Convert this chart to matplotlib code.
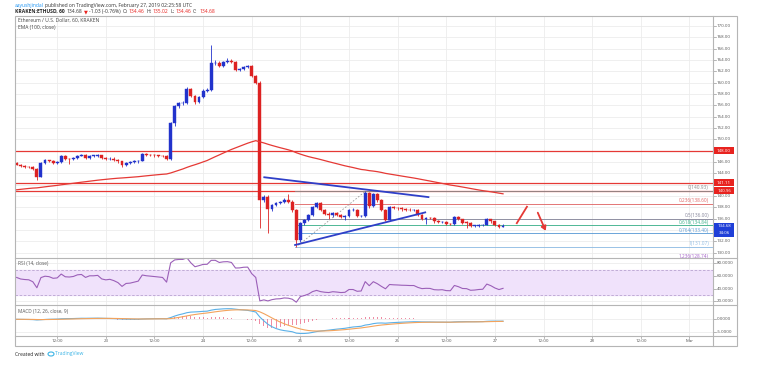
import matplotlib
matplotlib.use("Agg")
import matplotlib.pyplot as plt
import numpy as np
from matplotlib.patches import Rectangle, FancyArrowPatch, Ellipse
from matplotlib.lines import Line2D

W, H = 757, 380

# ---------------- data (hourly candles, hours since Feb 22 00:00) ----------------
hours = list(range(2, 123))
opens = [145.8, 145.5, 145.2, 145.1, 145.05, 144.7, 143.4, 145.85, 146.3, 146.2,
         145.85, 145.95, 147.1, 146.55, 146.5, 146.65, 147.1, 147.2, 146.7, 147.1,
         147.1, 147.2, 146.65, 146.5, 146.6, 146.4, 146.1, 145.45, 145.9, 145.95,
         146.1, 146.25, 147.35, 147.25, 147.2, 147.15, 147.1, 147.05, 146.5, 152.8,
         155.8, 156.35, 156.4, 158.8, 157.6, 156.6, 157.5, 158.6, 158.7, 163.4,
         163.5, 162.9, 163.7, 163.9, 163.7, 162.25, 162.35, 162.8, 162.9, 161.2,
         160.0, 139.3, 139.9, 137.65, 138.4, 138.8, 138.9, 139.3, 139.0, 137.5,
         132.2, 135.2, 135.8, 136.6, 138.0, 138.7, 137.5, 136.9, 136.6, 137.0,
         136.7, 136.3, 136.4, 137.5, 137.5, 136.4, 136.5, 140.5, 138.2, 140.4,
         139.2, 137.5, 135.8, 138.1, 137.9, 137.8, 137.65, 137.6, 137.5, 137.5,
         136.6, 136.0, 136.1, 136.05, 135.5, 135.4, 135.45, 135.1, 135.05, 136.3,
         135.9, 135.3, 135.25, 134.7, 134.75, 134.85, 134.9, 135.9, 135.5, 134.9,
         134.46]
closes = [145.5, 145.2, 145.1, 145.05, 144.7, 143.4, 145.85, 146.3, 146.2, 145.85,
          145.95, 147.1, 146.55, 146.5, 146.65, 147.1, 147.2, 146.7, 147.1, 147.1,
          147.2, 146.65, 146.5, 146.6, 146.4, 146.1, 145.45, 145.9, 145.95, 146.1,
          146.25, 147.35, 147.25, 147.2, 147.15, 147.1, 147.05, 146.5, 152.8, 155.8,
          156.35, 156.4, 158.8, 157.6, 156.6, 157.5, 158.6, 158.7, 163.4, 163.5,
          162.9, 163.7, 163.9, 163.7, 162.25, 162.35, 162.8, 162.9, 161.2, 160.0,
          139.3, 139.9, 137.65, 138.4, 138.8, 138.9, 139.3, 139.0, 137.5, 132.2,
          135.2, 135.8, 136.6, 138.0, 138.7, 137.5, 136.9, 136.6, 137.0, 136.7,
          136.3, 136.4, 137.5, 137.5, 136.4, 136.5, 140.5, 138.2, 140.4, 139.2,
          137.5, 135.8, 138.1, 137.9, 137.8, 137.65, 137.6, 137.5, 137.5, 136.6,
          136.0, 136.1, 136.05, 135.5, 135.4, 135.45, 135.1, 135.05, 136.3, 135.9,
          135.3, 135.25, 134.7, 134.75, 134.85, 134.9, 135.9, 135.5, 134.9, 134.46,
          134.68]
highs = [146.0, 145.7, 145.4, 145.3, 145.2, 144.9, 146.0, 146.5, 146.4, 146.3,
         146.1, 147.3, 147.3, 146.7, 146.8, 147.3, 147.4, 147.4, 147.3, 147.3,
         147.4, 147.3, 146.8, 146.8, 146.8, 146.5, 146.2, 146.0, 146.1, 146.3,
         146.4, 147.6, 147.5, 147.4, 147.4, 147.3, 147.3, 147.2, 153.0, 156.0,
         156.6, 156.8, 159.2, 159.1, 157.8, 157.7, 158.8, 159.0, 166.6, 164.0,
         163.8, 163.9, 164.3, 164.1, 163.9, 162.6, 163.0, 163.1, 163.1, 161.4,
         160.3, 140.2, 140.1, 138.6, 139.0, 139.1, 139.6, 140.4, 139.2, 137.7,
         135.4, 136.0, 136.8, 138.2, 139.0, 138.9, 137.7, 137.1, 137.2, 137.2,
         136.9, 136.6, 137.7, 137.8, 137.7, 136.7, 140.93, 140.7, 140.6, 140.6,
         139.4, 137.7, 138.3, 138.3, 138.1, 138.0, 137.8, 137.8, 137.7, 137.7,
         136.8, 136.3, 136.3, 136.2, 135.7, 135.6, 135.6, 135.3, 136.5, 136.4,
         136.0, 135.5, 135.4, 134.9, 135.0, 135.1, 136.1, 136.0, 135.6, 135.0,
         135.02]
lows = [145.4, 145.1, 144.9, 144.9, 144.5, 142.9, 143.3, 145.7, 146.0, 145.7,
        145.7, 145.8, 146.4, 145.6, 146.3, 146.5, 147.0, 146.5, 146.5, 146.9,
        146.9, 146.5, 146.3, 146.3, 146.2, 145.9, 145.1, 145.3, 145.7, 145.8,
        145.9, 146.1, 147.0, 147.0, 146.9, 146.9, 146.8, 146.3, 146.3, 152.3,
        155.5, 156.0, 156.3, 157.4, 156.3, 156.4, 157.3, 158.4, 158.5, 163.1,
        162.7, 162.7, 163.5, 163.5, 162.0, 162.0, 162.2, 162.6, 161.0, 159.8,
        134.3, 139.0, 133.5, 137.4, 138.2, 138.6, 138.7, 138.7, 137.2, 131.07,
        131.9, 134.9, 135.6, 136.4, 137.8, 137.3, 136.7, 136.0, 136.3, 136.5,
        136.1, 135.8, 136.2, 137.3, 136.2, 136.2, 136.3, 137.9, 138.0, 139.0,
        137.3, 135.6, 135.6, 137.7, 137.6, 137.4, 137.4, 137.3, 137.3, 136.4,
        135.8, 135.0, 135.9, 135.3, 135.2, 135.2, 134.9, 134.8, 134.9, 135.7,
        135.1, 134.4, 134.5, 134.5, 134.6, 134.7, 134.8, 135.3, 134.7, 134.4,
        134.46]

ema_start = 141.0
rsi_seed_gain = 0.30
rsi_seed_loss = 0.22

# horizontal lines / drawings
red_hlines = [148.00, 142.20, 140.96]
red_hline_labels = ["148.00", "141.11", "140.96"]
fib_ratios = ["0", "0.236", "0.5", "0.618", "0.764", "1", "1.236"]
fib_prices = [140.93, 138.60, 136.00, 134.84, 133.40, 131.07, 128.74]
fib_colors = ["#8c8c8c", "#e06666", "#85859a", "#3bb08a", "#5b9bd5", "#8fbbe3", "#a35fc8"]
upper_tl_x, upper_tl_y = [63.1, 103.6], [143.3, 139.8]
lower_tl_x, lower_tl_y = [70.7, 102.8], [131.35, 137.1]
fib_diag_x, fib_diag_y = [71.5, 88.0], [131.3, 140.8]
stroke_x, stroke_y = [125.4, 127.9], [135.2, 138.1]
arrow_x, arrow_y = [130.3, 132.8], [137.5, 133.4]

xtick_pos = [12, 24, 36, 48, 60, 72, 84, 96, 108, 120, 132, 144, 156, 168]
xtick_lab = ["12:00", "23", "12:00", "24", "12:00", "25", "12:00", "26",
             "12:00", "27", "12:00", "28", "12:00", "Mar"]
price_ticks = [130, 132, 136, 138, 140, 144, 146, 150, 152, 154, 156, 158,
               160, 162, 164, 166, 168, 170]
last_price_label = "134.68"
countdown_label = "34:06"

# ---------------- indicators ----------------
c = np.array(closes, dtype=float)
ema = np.zeros_like(c)
prev = ema_start
a = 2 / 101
for i, v in enumerate(c):
    prev = prev + a * (v - prev)
    ema[i] = prev

rsi = np.zeros_like(c)
ag, al = rsi_seed_gain, rsi_seed_loss
rsi[0] = 100 - 100 / (1 + ag / al)
for i in range(1, len(c)):
    d = c[i] - c[i - 1]
    ag = (ag * 13 + max(d, 0)) / 14
    al = (al * 13 + max(-d, 0)) / 14
    rsi[i] = 100 - 100 / (1 + ag / al)

def ema_series(x, n, start):
    out = np.zeros_like(x)
    p = start
    k = 2 / (n + 1)
    for i, v in enumerate(x):
        p = p + k * (v - p)
        out[i] = p
    return out

e12 = ema_series(c, 12, c[0])
e26 = ema_series(c, 26, c[0])
macd = e12 - e26
sig = ema_series(macd, 9, 0.0)
hist = macd - sig

# ---------------- figure ----------------
fig = plt.figure(figsize=(W / 100, H / 100), dpi=100)
fig.patch.set_facecolor("white")
FONT = ["Open Sans", "DejaVu Sans"]

def fx(px):
    return px / W

def fy(py):
    return 1 - py / H

X0, X1 = 15, 713
Y_TOP, Y_RSI, Y_MACD, Y_XAX, Y_BOT = 16, 257.5, 305, 336, 346
XL = (1.6, 173.8)

ax = fig.add_axes([fx(X0), fy(Y_RSI), (X1 - X0) / W, (Y_RSI - Y_TOP) / H])
ax_r = fig.add_axes([fx(X0), fy(Y_MACD), (X1 - X0) / W, (Y_MACD - Y_RSI) / H])
ax_m = fig.add_axes([fx(X0), fy(Y_XAX), (X1 - X0) / W, (Y_XAX - Y_MACD) / H])

grid_c = "#ececec"
for a_ in (ax, ax_r, ax_m):
    a_.set_xlim(*XL)
    a_.set_xticks([])
    a_.set_yticks([])
    for s in a_.spines.values():
        s.set_visible(False)
    for xp in xtick_pos:
        a_.axvline(xp, color=grid_c, lw=0.6, zorder=0)

# main price pane
ax.set_ylim(129.14, 171.76)
for p in range(130, 172, 2):
    ax.axhline(p, color=grid_c, lw=0.6, zorder=0)

BLUE = "#2233cc"
RED = "#dd2222"
for h, o, hi, lo, cl in zip(hours, opens, highs, lows, closes):
    col = BLUE if cl >= o else RED
    ax.plot([h, h], [lo, hi], color=col, lw=0.6, zorder=3, solid_capstyle="butt")
    bot = min(o, cl)
    ht = max(abs(cl - o), 0.09)
    ax.add_patch(Rectangle((h - 0.36, bot), 0.72, ht, facecolor=col,
                           edgecolor=col, lw=0.3, zorder=4))

ax.plot(hours, ema, color="#e53935", lw=0.9, zorder=5)
for p in red_hlines:
    ax.axhline(p, color="#e53935", lw=0.9, zorder=2)

# fib retracement
for r, p, col in zip(fib_ratios, fib_prices, fib_colors):
    ax.plot([70.6, XL[1]], [p, p], color=col, lw=0.7, zorder=2, alpha=0.9)
    ax.text(XL[1] - 1.0, p + 0.12, f"{r}({p:.2f})", color=col, fontsize=3.4,
            family=FONT, ha="right", va="bottom", zorder=6)
ax.plot(fib_diag_x, fib_diag_y, color="#9a9a9a", lw=0.6, ls=(0, (2, 2)), zorder=3)

# trend lines
ax.plot(upper_tl_x, upper_tl_y, color="#2f3fc8", lw=1.3, zorder=6)
ax.plot(lower_tl_x, lower_tl_y, color="#2f3fc8", lw=1.3, zorder=6)

# red hand-drawn arrows
ax.plot(stroke_x, stroke_y, color="#e53935", lw=1.3, zorder=6)
ax.add_patch(FancyArrowPatch((arrow_x[0], arrow_y[0]), (arrow_x[1], arrow_y[1]),
                             arrowstyle="-|>,head_length=2.5,head_width=1.5",
                             color="#e53935", lw=1.3, zorder=6))

ax.text(0.005, 1 - 4 / (Y_RSI - Y_TOP), "Ethereum / U.S. Dollar, 60, KRAKEN",
        transform=ax.transAxes, fontsize=3.6, family=FONT, color="#444444", va="center")
ax.text(0.005, 1 - 11 / (Y_RSI - Y_TOP), "EMA (100, close)",
        transform=ax.transAxes, fontsize=3.6, family=FONT, color="#444444", va="center")

# RSI pane
ax_r.set_ylim(14.3, 89.1)
for v in (20, 40, 60, 80):
    ax_r.axhline(v, color=grid_c, lw=0.6, zorder=0)
ax_r.axhspan(30, 70, color="#f0e2fb", zorder=1)
ax_r.axhline(70, color="#b9a3d0", lw=0.6, ls=(0, (3, 2)), zorder=2)
ax_r.axhline(30, color="#b9a3d0", lw=0.6, ls=(0, (3, 2)), zorder=2)
ax_r.plot(hours, rsi, color="#9b5fb8", lw=0.8, zorder=3)
ax_r.text(0.005, 1 - 6 / (Y_MACD - Y_RSI), "RSI (14, close)", transform=ax_r.transAxes,
          fontsize=3.4, family=FONT, color="#555555", va="center")

# MACD pane
ax_m.set_ylim(-6.57, 5.63)
for v in (0, -5):
    ax_m.axhline(v, color=grid_c, lw=0.6, zorder=0)
ax_m.bar(hours, hist, width=0.25, color="#ec6f8e", alpha=0.8, zorder=2)
ax_m.plot(hours, macd, color="#5ab0e8", lw=0.8, zorder=3)
ax_m.plot(hours, sig, color="#f3a35c", lw=0.8, zorder=3)
ax_m.text(0.005, 1 - 7 / (Y_XAX - Y_MACD), "MACD (12, 26, close, 9)", transform=ax_m.transAxes,
          fontsize=3.4, family=FONT, color="#555555", va="center")

# ---------- price scale labels ----------
def ylab(axis, val, txt, **kw):
    tr = axis.get_yaxis_transform()
    axis.plot([1.0, 1.0 + 2.5 / (X1 - X0)], [val, val], transform=tr, color="#999999",
              lw=0.5, clip_on=False)
    axis.text(1.0 + 4 / (X1 - X0), val, txt, transform=tr, fontsize=3.2, family=FONT,
              color="#555555", va="center", ha="left", clip_on=False, **kw)

for p in price_ticks:
    if 129.14 < p < 171.4:
        ylab(ax, p, f"{p:.2f}")
for v in (20, 40, 60, 80):
    ylab(ax_r, v, f"{v:.4f}")
for v in (0, -5):
    ylab(ax_m, v, f"{v:.4f}")

def price_box(axis, val, txt, color, dy_px=0):
    tr = axis.get_yaxis_transform()
    disp = tr.transform((1.0, val))
    ypx = H - disp[1] + dy_px
    fig.add_artist(Rectangle((fx(X1 + 1), fy(ypx + 3.6)), 20 / W, 7.2 / H,
                             transform=fig.transFigure, facecolor=color,
                             edgecolor="none", zorder=10))
    fig.text(fx(X1 + 11), fy(ypx), txt, fontsize=3.2, family=FONT, color="white",
             ha="center", va="center", zorder=11)

price_box(ax, red_hlines[0], red_hline_labels[0], "#e8231f")
price_box(ax, red_hlines[1], red_hline_labels[1], "#e8231f", dy_px=-0.8)
price_box(ax, red_hlines[2], red_hline_labels[2], "#e8231f")
price_box(ax, closes[-1], last_price_label, "#1f3fd8")
price_box(ax, closes[-1], countdown_label, "#1f3fd8", dy_px=7.2)

# x-axis labels
for xp, lb in zip(xtick_pos, xtick_lab):
    xd = ax.transData.transform((xp, 0))[0]
    fig.text(xd / W, fy(341.5), lb, fontsize=3.2, family=FONT, color="#555555",
             ha="center", va="center")
    fig.add_artist(Line2D([xd / W, xd / W], [fy(Y_XAX), fy(Y_XAX + 1.8)],
                          transform=fig.transFigure, color="#999999", lw=0.5))

# frames / separators
fc = "#b5b5b5"
fig.add_artist(Rectangle((fx(X0), fy(Y_BOT)), (737 - X0) / W, (Y_BOT - Y_TOP) / H,
                         transform=fig.transFigure, facecolor="none", edgecolor=fc, lw=0.8))
for yy in (Y_RSI, Y_MACD, Y_XAX):
    fig.add_artist(Line2D([fx(X0), fx(737)], [fy(yy), fy(yy)], transform=fig.transFigure,
                          color=fc, lw=0.8))
fig.add_artist(Line2D([fx(X1), fx(X1)], [fy(Y_TOP), fy(Y_BOT)], transform=fig.transFigure,
                      color=fc, lw=0.8))

# header (sequential colored text)
renderer = fig.canvas.get_renderer()

def seq(x_px, y_px, parts, size):
    x = x_px
    for s, col, wt in parts:
        t = fig.text(fx(x), fy(y_px), s, color=col, fontsize=size, fontweight=wt,
                     family=FONT, va="center", ha="left")
        bb = t.get_window_extent(renderer=renderer)
        x += bb.width + 1.6

seq(15, 5, [("aayushjindal", "#2196f3", "normal"),
            ("published on TradingView.com, February 27, 2019 02:25:58 UTC", "#333333", "normal")], 3.6)
seq(15, 11.5, [("KRAKEN:ETHUSD, 60", "#222222", "bold"),
               ("134.68", "#333333", "normal"),
               ("▼", "#e8231f", "normal"),
               ("-1.03 (-0.76%)", "#333333", "normal"),
               ("O:", "#333333", "normal"), ("134.46", "#e8231f", "normal"),
               ("H:", "#333333", "normal"), ("135.02", "#e8231f", "normal"),
               ("L:", "#333333", "normal"), ("134.46", "#e8231f", "normal"),
               ("C:", "#333333", "normal"), ("134.68", "#e8231f", "normal")], 3.6)

# footer
fig.text(fx(15), fy(354), "Created with", fontsize=3.6, family=FONT, color="#222222",
         va="center", ha="left")
fig.add_artist(Ellipse((fx(51), fy(354)), 6 / W, 4 / H, transform=fig.transFigure,
                       facecolor="none", edgecolor="#3cb4e5", lw=0.8))
fig.text(fx(55), fy(354), "TradingView", fontsize=3.6, family=FONT, color="#3cb4e5",
         va="center", ha="left")

fig.savefig("out.png", dpi=100, facecolor="white")
